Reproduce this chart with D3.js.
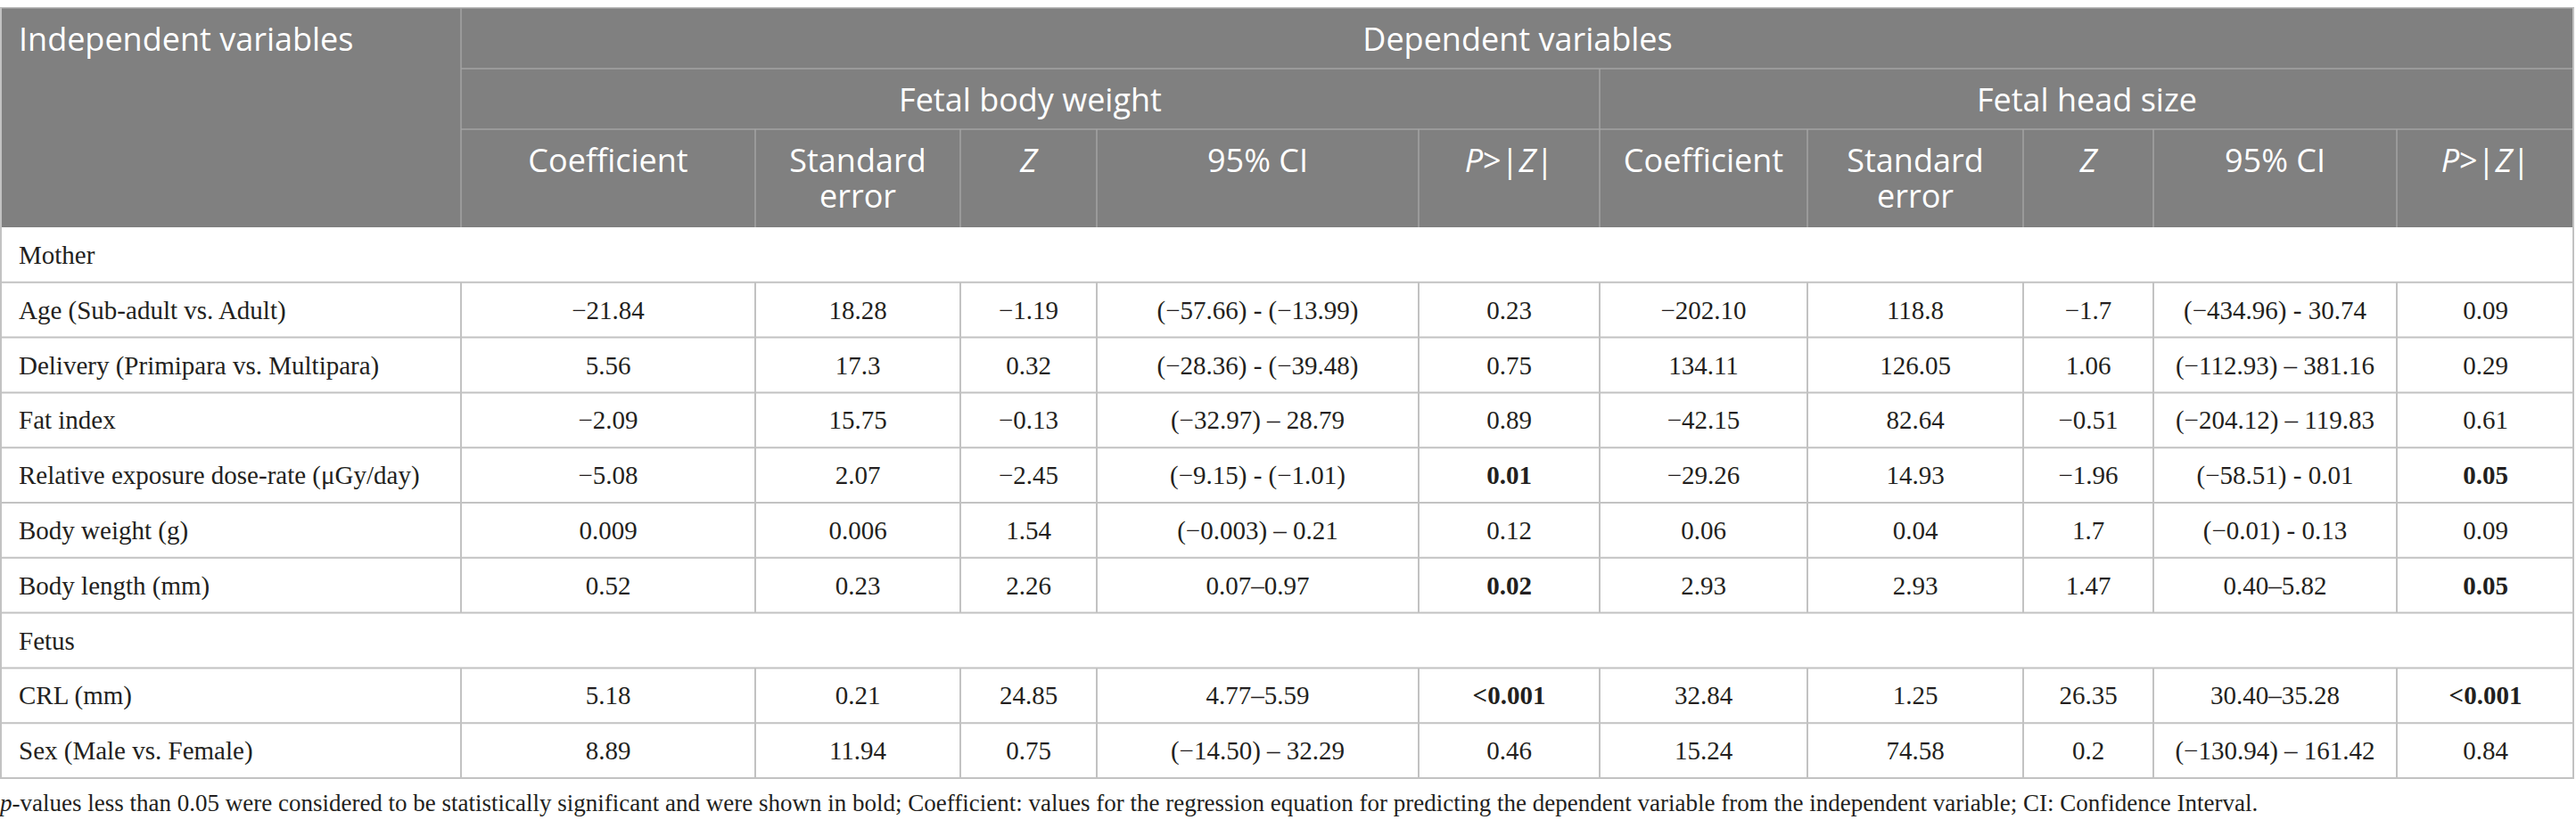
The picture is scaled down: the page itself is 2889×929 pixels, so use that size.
<!DOCTYPE html>
<html lang="en">
<head>
  <meta charset="UTF-8">
  <title>Regression table</title>
  <script src="https://d3js.org/d3.v7.min.js"></script>
  <style>
    body { margin: 0; background: #fff; }
    .hd { font-family: "Open Sans", sans-serif; fill: #fff; }
    .bd { font-family: "Liberation Serif", serif; fill: #231f20; }
  </style>
</head>
<body>
  <svg id="chart" width="2889" height="929"></svg>
  <script>
    // table content
    let variables = ["Age (Sub-adult vs. Adult)", "Delivery (Primipara vs. Multipara)", "Fat index",
      "Relative exposure dose-rate (\u03bcGy/day)", "Body weight (g)", "Body length (mm)",
      "CRL (mm)", "Sex (Male vs. Female)"];
    let groupOf = ["Mother", "Mother", "Mother", "Mother", "Mother", "Mother", "Fetus", "Fetus"];
    let outcomes = ["Fetal body weight", "Fetal head size"];
    let statHeads = [["Coefficient"], ["Standard", "error"], ["Z"], ["95% CI"], ["P>|Z|"]];

    let bwCoef = ["\u221221.84", "5.56", "\u22122.09", "\u22125.08", "0.009", "0.52", "5.18", "8.89"];
    let bwSE = ["18.28", "17.3", "15.75", "2.07", "0.006", "0.23", "0.21", "11.94"];
    let bwZ = ["\u22121.19", "0.32", "\u22120.13", "\u22122.45", "1.54", "2.26", "24.85", "0.75"];
    let bwCI = ["(\u221257.66) - (\u221213.99)", "(\u221228.36) - (\u221239.48)", "(\u221232.97) \u2013 28.79",
      "(\u22129.15) - (\u22121.01)", "(\u22120.003) \u2013 0.21", "0.07\u20130.97", "4.77\u20135.59", "(\u221214.50) \u2013 32.29"];
    let bwP = ["0.23", "0.75", "0.89", "0.01", "0.12", "0.02", "<0.001", "0.46"];

    let hsCoef = ["\u2212202.10", "134.11", "\u221242.15", "\u221229.26", "0.06", "2.93", "32.84", "15.24"];
    let hsSE = ["118.8", "126.05", "82.64", "14.93", "0.04", "2.93", "1.25", "74.58"];
    let hsZ = ["\u22121.7", "1.06", "\u22120.51", "\u22121.96", "1.7", "1.47", "26.35", "0.2"];
    let hsCI = ["(\u2212434.96) - 30.74", "(\u2212112.93) \u2013 381.16", "(\u2212204.12) \u2013 119.83",
      "(\u221258.51) - 0.01", "(\u22120.01) - 0.13", "0.40\u20135.82", "30.40\u201335.28", "(\u2212130.94) \u2013 161.42"];
    let hsP = ["0.09", "0.29", "0.61", "0.05", "0.09", "0.05", "<0.001", "0.84"];

    let footnote = "-values less than 0.05 were considered to be statistically significant and were shown in bold; Coefficient: values for the regression equation for predicting the dependent variable from the independent variable; CI: Confidence Interval.";

    // layout
    let colWidths = [517, 330, 230, 153, 361, 203, 233, 242, 146, 273, 199];
    let colEdges = [0].concat(Array.from(d3.cumsum(colWidths)));
    let edge = function (i) { return colEdges[i]; };
    let mid = function (i) { return (colEdges[i] + colEdges[i + 1]) / 2; };
    let right = colEdges[colEdges.length - 1];

    let tableTop = 9, h1 = 77, h2 = 145, headBottom = 255, tableBottom = 873;
    let headFill = '#808080', headLine = '#a3a3a3', bodyLine = '#c2c2c2';
    let headSize = 36, bodySize = 29, noteSize = 27;

    // rows: section labels and data rows
    let rows = [];
    let seen = {};
    variables.forEach(function (v, i) {
      if (!seen[groupOf[i]]) {
        seen[groupOf[i]] = true;
        rows.push({ id: 'sec-' + groupOf[i], section: groupOf[i] });
      }
      rows.push({
        id: 'row-' + i, label: v,
        cells: [bwCoef[i], bwSE[i], bwZ[i], bwCI[i], bwP[i], hsCoef[i], hsSE[i], hsZ[i], hsCI[i], hsP[i]]
      });
    });

    let y = d3.scaleBand().domain(rows.map(function (d) { return d.id; })).range([headBottom, tableBottom]);

    let svg = d3.select('#chart');

    // header background
    svg.append('rect').attr('x', 0).attr('y', tableTop).attr('width', right).attr('height', headBottom - tableTop)
      .attr('fill', headFill);

    let hl = svg.append('g').attr('stroke', headLine).attr('stroke-width', 1.5);
    hl.append('line').attr('x1', 0).attr('x2', right).attr('y1', tableTop).attr('y2', tableTop);
    hl.append('line').attr('x1', edge(1)).attr('x2', right).attr('y1', h1).attr('y2', h1);
    hl.append('line').attr('x1', edge(1)).attr('x2', right).attr('y1', h2).attr('y2', h2);
    hl.append('line').attr('x1', edge(1)).attr('x2', edge(1)).attr('y1', tableTop).attr('y2', headBottom);
    hl.append('line').attr('x1', edge(6)).attr('x2', edge(6)).attr('y1', h1).attr('y2', headBottom);
    hl.selectAll('line.sub')
      .data([2, 3, 4, 5, 7, 8, 9, 10])
      .join('line')
      .attr('class', 'sub')
      .attr('x1', edge).attr('x2', edge)
      .attr('y1', h2).attr('y2', headBottom);

    // header texts
    svg.append('text').attr('class', 'hd').attr('x', 21).attr('y', 57)
      .attr('font-size', headSize).text('Independent variables');
    svg.append('text').attr('class', 'hd').attr('x', (edge(1) + right) / 2).attr('y', 57)
      .attr('text-anchor', 'middle').attr('font-size', headSize).text('Dependent variables');
    svg.selectAll('text.outcome')
      .data(outcomes)
      .join('text')
      .attr('class', 'hd outcome')
      .attr('x', function (d, i) { return i === 0 ? (edge(1) + edge(6)) / 2 : (edge(6) + right) / 2; })
      .attr('y', 125)
      .attr('text-anchor', 'middle')
      .attr('font-size', headSize)
      .text(function (d) { return d; });

    // one text per header line
    let subLines = [];
    outcomes.forEach(function (o, k) {
      statHeads.forEach(function (s, j) {
        s.forEach(function (line, li) {
          subLines.push({ col: 1 + k * 5 + j, line: line, li: li });
        });
      });
    });
    svg.selectAll('text.sub')
      .data(subLines)
      .join('text')
      .attr('class', 'hd sub')
      .attr('x', function (d) { return mid(d.col); })
      .attr('y', function (d) { return 193 + d.li * 40; })
      .attr('text-anchor', 'middle')
      .attr('font-size', headSize)
      .each(function (d) {
        let t = d3.select(this);
        if (d.line === 'Z') {
          t.append('tspan').attr('font-style', 'italic').text('Z');
        } else if (d.line === 'P>|Z|') {
          t.append('tspan').attr('font-style', 'italic').text('P');
          t.append('tspan').text('>|');
          t.append('tspan').attr('font-style', 'italic').text('Z');
          t.append('tspan').text('|');
        } else {
          t.text(d.line);
        }
      });

    // body grid
    let bl = svg.append('g').attr('stroke', bodyLine).attr('stroke-width', 2);
    bl.selectAll('line.h')
      .data(rows)
      .join('line')
      .attr('class', 'h')
      .attr('x1', 0).attr('x2', right)
      .attr('y1', function (d) { return y(d.id) + y.bandwidth(); })
      .attr('y2', function (d) { return y(d.id) + y.bandwidth(); });
    bl.append('line').attr('x1', 1).attr('x2', 1).attr('y1', tableTop).attr('y2', tableBottom);
    bl.append('line').attr('x1', right - 1).attr('x2', right - 1).attr('y1', tableTop).attr('y2', tableBottom);

    let dataRows = rows.filter(function (d) { return d.cells; });
    dataRows.forEach(function (r) {
      bl.append('g').selectAll('line')
        .data(d3.range(1, colEdges.length - 1))
        .join('line')
        .attr('x1', edge).attr('x2', edge)
        .attr('y1', y(r.id)).attr('y2', y(r.id) + y.bandwidth());
    });

    // body texts
    svg.selectAll('text.label')
      .data(rows)
      .join('text')
      .attr('class', 'bd label')
      .attr('x', 21)
      .attr('y', function (d) { return y(d.id) + y.bandwidth() / 2; })
      .attr('dy', '0.35em')
      .attr('font-size', bodySize)
      .text(function (d) { return d.section || d.label; });

    let cellData = [];
    dataRows.forEach(function (r) {
      r.cells.forEach(function (c, j) {
        let isP = (j === 4 || j === 9);
        let pv = isP ? +c.replace('<', '') : 1;
        cellData.push({ row: r.id, col: j + 1, text: c, bold: isP && pv <= 0.05 });
      });
    });
    svg.selectAll('text.cell')
      .data(cellData)
      .join('text')
      .attr('class', 'bd cell')
      .attr('x', function (d) { return mid(d.col); })
      .attr('y', function (d) { return y(d.row) + y.bandwidth() / 2; })
      .attr('dy', '0.35em')
      .attr('text-anchor', 'middle')
      .attr('font-size', bodySize)
      .attr('font-weight', function (d) { return d.bold ? 'bold' : 'normal'; })
      .text(function (d) { return d.text; });

    // footnote
    let fn = svg.append('text').attr('class', 'bd').attr('x', 0).attr('y', 910).attr('font-size', noteSize);
    fn.append('tspan').attr('font-style', 'italic').text('p');
    fn.append('tspan').text(footnote);
  </script>
</body>
</html>
